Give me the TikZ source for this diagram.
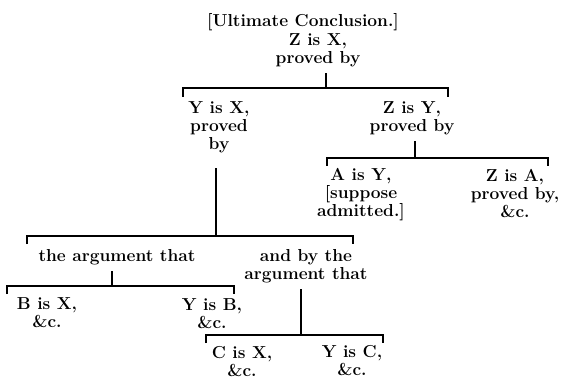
\documentclass[tikz,border=0pt]{standalone}
\usepackage{tikz}

\begin{document}
\begin{tikzpicture}[x=0.75pt, y=-0.75pt, line width=1.1pt,
  every node/.style={font=\fontsize{13}{13.5}\selectfont\bfseries, align=center, inner sep=0pt, anchor=north},
  trunk/.style={shorten <=4pt}]
	\useasboundingbox (0,0) rectangle (564,381);
	\node (ult) at (303,13) {[Ultimate Conclusion.]};
	\node (zx) at (318,33) {Z is X,\\proved by};
	\node (yx) at (219,101) {Y is X,\\proved\\by};
	\node (zy) at (412,101) {Z is Y,\\proved by};
	\node (ay) at (361,168) {A is Y,\\{[}suppose\\admitted.]};
	\node (za) at (515,169) {Z is A,\\proved by,\\\&c.};
	\node (arg1) at (117,249) {the argument that};
	\node (arg2) at (306,249) {and by the\\argument that};
	\node (bx) at (47,297) {B is X,\\\&c.};
	\node (yb) at (212,298) {Y is B,\\\&c.};
	\node (cx) at (242,346) {C is X,\\\&c.};
	\node (yc) at (352,345) {Y is C,\\\&c.};
	\coordinate (j1) at (326,88);  \coordinate (bl1) at (183,97);  \coordinate (br1) at (448,97);
	\coordinate (j2) at (415,158); \coordinate (bl2) at (327,166); \coordinate (br2) at (548,166);
	\coordinate (j3) at (216,236); \coordinate (bl3) at (27,244);  \coordinate (br3) at (353,244);
	\coordinate (j4) at (112,286); \coordinate (bl4) at (7,294);   \coordinate (br4) at (234,294);
	\coordinate (j5) at (301,335); \coordinate (bl5) at (206,343); \coordinate (br5) at (383,343);
	\foreach \j in {1,...,5}
		\draw (bl\j) |- (j\j) -| (br\j);
	\draw[trunk] (zx.south -| j1) -- (j1);
	\draw[trunk] (zy.south -| j2) -- (j2);
	\draw[trunk, shorten <=11pt] (yx.south -| j3) -- (j3);
	\draw[trunk] (arg1.south -| j4) -- (j4);
	\draw[trunk] (arg2.south -| j5) -- (j5);
\end{tikzpicture}
\end{document}
